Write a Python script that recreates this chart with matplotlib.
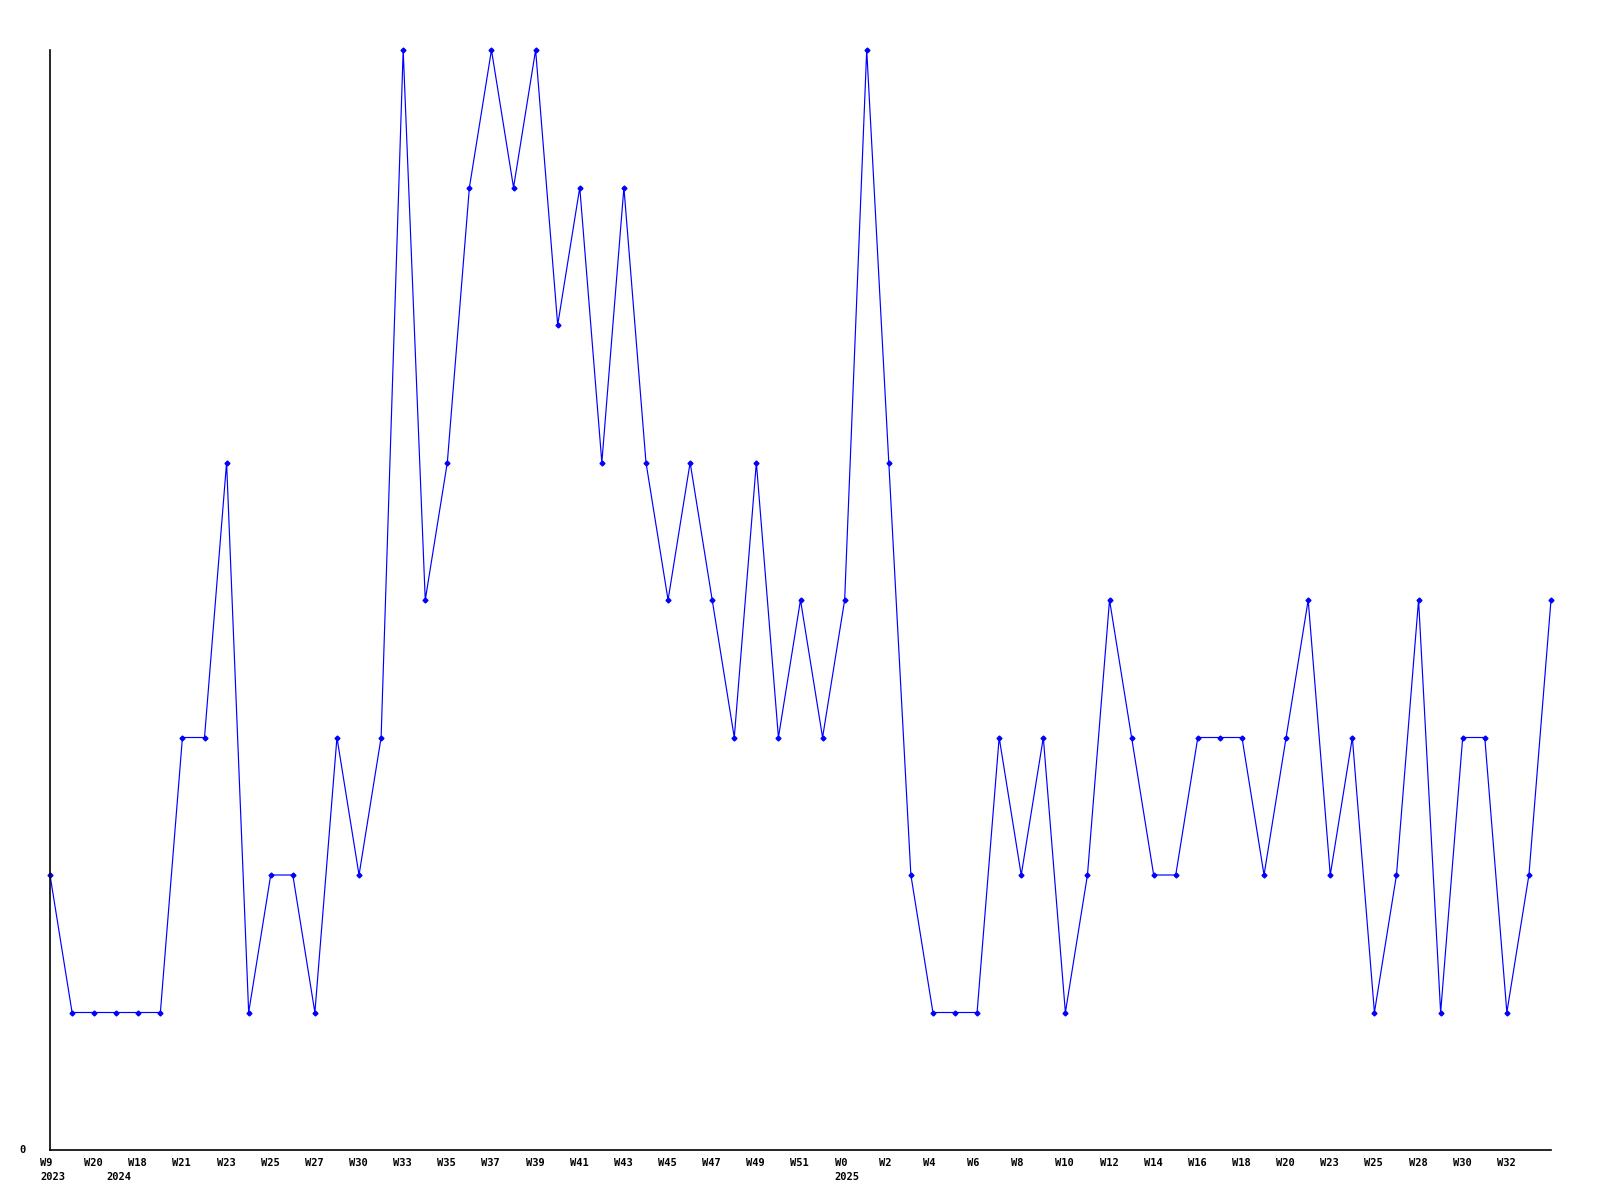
import matplotlib
matplotlib.use("Agg")
import matplotlib.pyplot as plt

values = [2, 1, 1, 1, 1, 1, 3, 3, 5, 1, 2, 2, 1, 3, 2, 3, 8, 4, 5, 7,
          8, 7, 8, 6, 7, 5, 7, 5, 4, 5, 4, 3, 5, 3, 4, 3, 4, 8, 5, 2,
          1, 1, 1, 3, 2, 3, 1, 2, 4, 3, 2, 2, 3, 3, 3, 2, 3, 4, 2, 3,
          1, 2, 4, 1, 3, 3, 1, 2, 4]

week_labels = ["W9", "W20", "W18", "W21", "W23", "W25", "W27", "W30", "W33",
               "W35", "W37", "W39", "W41", "W43", "W45", "W47", "W49", "W51",
               "W0", "W2", "W4", "W6", "W8", "W10", "W12", "W14", "W16",
               "W18", "W20", "W23", "W25", "W28", "W30", "W32"]
year_labels = ["2023", "2024", "2025"]
year_positions = [0, 3, 36]

fig = plt.figure(figsize=(16, 12), dpi=100)
ax = fig.add_axes([50/1600, 1 - 1150/1200, 1501/1600, 1100/1200])

xs = list(range(len(values)))
ax.plot(xs, values, color="#0000ff", linewidth=0.85, marker="D", markersize=2.5,
        markerfacecolor="#0000ff", markeredgecolor="#0000ff", clip_on=False)

ax.set_xlim(0, len(values) - 1)
ax.set_ylim(0, 8)
for s in ["top", "right"]:
    ax.spines[s].set_visible(False)
for s in ["left", "bottom"]:
    ax.spines[s].set_color("black")
    ax.spines[s].set_linewidth(1.2)
ax.set_xticks([])
ax.set_yticks([])

font = dict(family="DejaVu Sans Mono", fontweight="bold", fontsize=7.5, color="black")

for i, lab in enumerate(week_labels):
    ax.annotate(lab, xy=(2 * i, 0), xycoords=("data", "axes fraction"),
                xytext=(-10, -8), textcoords="offset pixels",
                ha="left", va="top", **font)
for pos, lab in zip(year_positions, year_labels):
    ax.annotate(lab, xy=(pos, 0), xycoords=("data", "axes fraction"),
                xytext=(-10, -22), textcoords="offset pixels",
                ha="left", va="top", **font)
ax.annotate("0", xy=(0, 0), xycoords="axes fraction",
            xytext=(-24, 0), textcoords="offset pixels",
            ha="right", va="center", **font)

fig.savefig("out.png", dpi=100)
